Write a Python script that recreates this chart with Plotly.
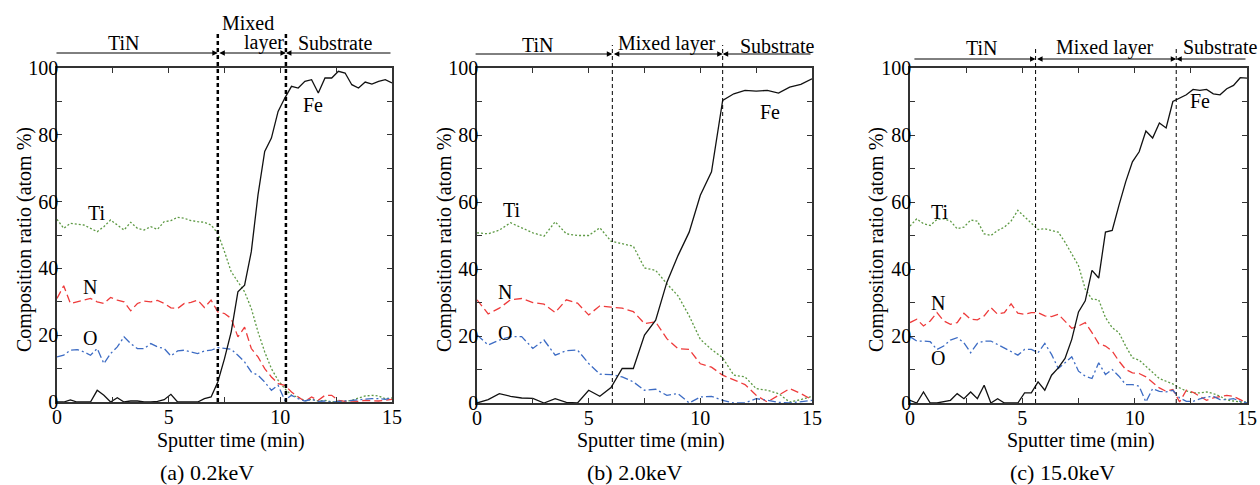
import plotly.graph_objects as go
from plotly.subplots import make_subplots

FONT = "Liberation Serif, Times New Roman, DejaVu Serif, serif"
W, H = 1260, 485

# ---------------- data ----------------
T_A = [round(0.3 * i, 1) for i in range(51)]
FE_A = [0, 0, 0.6, 0, 0, 0, 3.5, 2, 0, 1.3,
        0, 0.3, 0.3, 0, 0, 0.2, 0.7, 2.3, 0, 0,
        0, 0, 1, 1.5, 6, 13, 21, 33, 35, 45,
        62, 75, 79, 87, 91, 94.5, 94, 96, 96.5, 92.5,
        97, 97, 99, 98.5, 95, 94, 95.8, 95.2, 96, 96.5,
        95.5]
TI_A = [54.7, 52, 53.5, 53.3, 53, 52, 51, 52.5, 54.5, 53,
        51.5, 53.8, 52, 51.5, 52.5, 51.7, 54, 54.3, 55.3, 55,
        54.3, 54, 53.8, 53, 50.5, 45, 39, 36, 33, 28,
        21, 15, 10, 6.5, 4, 2, 1.5, 0.3, 0.8, 0.3,
        0.5, 0, 0.3, 0.2, 0.5, 1.2, 1.8, 2, 1.8, 1,
        1.2]
N_A = [31, 34.8, 29.5, 30, 30.5, 31, 30, 29.5, 31.3, 30.5,
       30, 27.3, 29.5, 30.2, 30, 30.4, 29.5, 28.2, 28, 29.5,
       29.8, 30.5, 28.3, 30.5, 27, 26.5, 25, 19.5, 22.4, 16,
       13.5, 10, 7.5, 5.5, 5, 3, 1.5, 0.2, 1.5, 0.5,
       2, 2, 0.5, 0.2, 0.3, 0.2, 0.5, 0.4, 0.3, 0.5,
       0.8]
O_A = [13.5, 14, 15.5, 15.7, 15, 14, 16, 11.5, 14.5, 16.5,
       19.5, 17.5, 16, 16, 17.5, 16.5, 16, 13.8, 15.3, 15.5,
       15, 14.5, 15.3, 15.5, 16.3, 16, 15.8, 14, 12, 9,
       8, 6, 3.5, 5, 0.5, 2, 1, 0.3, 0.8, 0.2,
       0.3, 0, 0.2, 0.3, 0.5, 0.8, 1, 1, 1, 0.8,
       1.3]

T_B = [0.5 * i for i in range(31)]
FE_B = [0, 1, 2.8, 2, 1.5, 1.4, 0, 1.3, 0.2, 0,
        3.8, 2, 4.6, 10.3, 10.3, 20.3, 24.7, 36, 44, 51,
        62, 69, 90.3, 92.3, 93.3, 93.1, 93.3, 92.5, 94.3, 95.1,
        96.8]
TI_B = [50.8, 50.5, 51.6, 53.8, 52.3, 50.8, 49.8, 54.1, 50.5, 50,
        50, 52.3, 48.3, 47.6, 46.8, 40.3, 39.6, 35.6, 32, 26,
        19, 16, 13.5, 8.3, 7.8, 4.3, 3.8, 2.8, 0.3, 1,
        2]
N_B = [30.8, 26.6, 28.3, 30.8, 31.2, 30, 29.5, 27, 30.8, 29.8,
       26.3, 29, 28.6, 28.3, 27.3, 23.7, 24.2, 19.2, 16.2, 16,
       11.7, 10.7, 8.3, 6.8, 5.5, 2.3, 0.3, 2.3, 4.3, 2.8,
       1]
O_B = [20.3, 17.3, 18.8, 19.8, 19.8, 16.3, 18.8, 14.3, 15.6, 15.8,
       11.8, 8.6, 8.5, 7.8, 6.3, 3.8, 4.1, 2.3, 2.8, 0,
       1.8, 2, 0.8, 0, 0, 1.3, 0.8, 0.2, 0, 0.4,
       0.8]

T_C = [round(0.3 * i, 1) for i in range(51)]
FE_C = [0.8, 0, 3.3, 0, 0, 0.3, 0.8, 2.8, 1.3, 3.3,
        1.3, 5.3, 0, 1.3, 0, 0, 0, 3, 3, 6.3,
        3.8, 8.3, 10.5, 13.3, 19, 27.2, 30.5, 39.6, 37.3, 51,
        51.5, 59, 66, 72, 75, 81.2, 79.1, 83.6, 82.1, 90,
        91, 92, 93.6, 93.3, 93.6, 92.3, 92, 93.8, 94.8, 97.1,
        97]
TI_C = [52.8, 55, 53.5, 53, 54.8, 55, 54.3, 52, 52.5, 54.6,
        54.3, 50.5, 50, 51.5, 52.5, 54.3, 57.5, 55.5, 53.8, 51.8,
        52, 51.5, 51, 48, 44.5, 41, 34, 31, 30.8, 25.5,
        22.5, 21, 17, 13.5, 12.8, 11, 9, 7.3, 6.5, 5.7,
        4.5, 3.6, 3, 3, 3.3, 2.8, 2, 0.9, 0.6, 0.3,
        0.3]
N_C = [24, 25, 23, 24.5, 27, 24.5, 23.5, 24, 26.8, 25,
       24.8, 26, 28.5, 26.5, 27, 29.6, 26.8, 26.5, 27, 27,
       26, 25.8, 26.5, 24.5, 22.3, 23, 24, 21, 17.7, 17,
       15.5, 12.5, 10, 9, 8.8, 7.8, 6, 4.5, 3.5, 4,
       0.3, 3.8, 3.2, 2, 0.8, 1.5, 2, 2.3, 2, 1,
       0]
O_C = [19.8, 18.5, 18.5, 18.3, 16, 17, 18.8, 19.5, 18, 15,
       17.8, 18.5, 18.5, 17.5, 16.5, 15.5, 14.3, 16, 16, 15,
       17.8, 14.5, 10.3, 12, 13.8, 9.5, 8, 7.3, 12, 8.5,
       10, 8, 5.5, 5.5, 5, 0.3, 4.3, 3.5, 3.3, 3.8,
       1.5, 0.5, 0.5, 1.2, 1.8, 2, 1, 1, 1.3, 0.5,
       0]

BOUNDS_A = [7.2, 10.25]
BOUNDS_B = [6.06, 11.0]
BOUNDS_C = [5.59, 11.85]
CAPTIONS = ["(a) 0.2keV", "(b) 2.0keV", "(c) 15.0keV"]
X_TICKS = [0, 2.5, 5, 7.5, 10, 12.5, 15]
X_TICKTEXT = ["0", "", "5", "", "10", "", "15"]
Y_TICKS = [0, 10, 20, 30, 40, 50, 60, 70, 80, 90, 100]
Y_TICKTEXT = ["0", "", "20", "", "40", "", "60", "", "80", "", "100"]

# ---------------- layout helpers ----------------
def px_x(p):
    return p / W

def px_y(p):
    return 1 - p / H

# plot boxes in pixels: left, right, top, bottom
BOX = [(57, 392, 68, 402), (477, 812, 68, 403), (910, 1247, 68, 403)]

COL_FE = "#111111"
COL_TI = "#5e9a45"
COL_N = "#ee3b3b"
COL_O = "#3d6cc4"

fig = make_subplots(rows=1, cols=3)

panels = [
    (T_A, FE_A, TI_A, N_A, O_A),
    (T_B, FE_B, TI_B, N_B, O_B),
    (T_C, FE_C, TI_C, N_C, O_C),
]
for i, (t, fe, ti, n, o) in enumerate(panels):
    c = i + 1
    fig.add_trace(go.Scatter(x=t, y=ti, mode="lines", line=dict(color=COL_TI, width=1.3, dash="2px,2px")), row=1, col=c)
    fig.add_trace(go.Scatter(x=t, y=n, mode="lines", line=dict(color=COL_N, width=1.3, dash="8px,4px")), row=1, col=c)
    fig.add_trace(go.Scatter(x=t, y=o, mode="lines", line=dict(color=COL_O, width=1.3, dash="8px,3px,2px,3px")), row=1, col=c)
    fig.add_trace(go.Scatter(x=t, y=fe, mode="lines", line=dict(color=COL_FE, width=1.3)), row=1, col=c)

axis_common = dict(showgrid=False, zeroline=False, showline=True, linecolor="#333333", linewidth=1.5,
                   mirror="ticks", ticks="inside", ticklen=5, tickwidth=1, tickcolor="#333333",
                   tickfont=dict(family=FONT, size=20, color="black"), automargin=False)

for i, (l, r, t, b) in enumerate(BOX):
    sfx = "" if i == 0 else str(i + 1)
    fig.layout["xaxis" + sfx].update(domain=[px_x(l), px_x(r)], range=[0, 15],
                                     tickvals=X_TICKS, ticktext=X_TICKTEXT,
                                     ticklabelstandoff=-4, **axis_common)
    fig.layout["yaxis" + sfx].update(domain=[px_y(b), px_y(t)], range=[0, 100],
                                     tickvals=Y_TICKS, ticktext=Y_TICKTEXT,
                                     ticklabelstandoff=-7, **axis_common)

annotations = []
shapes = []

def txt(x, y, s, size=20, xref="paper", yref="paper", angle=0):
    annotations.append(dict(x=x, y=y, xref=xref, yref=yref, text=s, showarrow=False,
                            font=dict(family=FONT, size=size, color="black"),
                            xanchor="center", yanchor="middle", textangle=angle))

# element labels (data coords)
LABELS = [
    [("Ti", 1.8, 56.6), ("Fe", 11.46, 89), ("N", 1.48, 34.4), ("O", 1.48, 19.2)],
    [("Ti", 1.57, 57.5), ("Fe", 13.1, 87), ("N", 1.25, 33), ("O", 1.25, 21)],
    [("Ti", 1.33, 57), ("Fe", 12.9, 90), ("N", 1.25, 30), ("O", 1.25, 13.5)],
]
for i, labs in enumerate(LABELS):
    sfx = "" if i == 0 else str(i + 1)
    for s, x, y in labs:
        txt(x, y, s, xref="x" + sfx, yref="y" + sfx)

# axis titles & captions (pixel-positioned)
YT_X = [24, 444, 876]
XT_X = [231, 651, 1081]
CAP_X = [207, 634, 1062]
for i in range(3):
    txt(px_x(YT_X[i]), px_y(240), "Composition ratio (atom %)", angle=-90)
    txt(px_x(XT_X[i]), px_y(440), "Sputter time (min)")
    txt(px_x(CAP_X[i]), px_y(472), CAPTIONS[i], size=22)

# header: region labels, arrows, dashed boundaries
BOUNDS = [BOUNDS_A, BOUNDS_B, BOUNDS_C]
ARROW_Y = [53, 54, 59]
LINE_TOP = [33, 45, 46]
LINE_X0 = [-0.09, -0.13, 0.13]
DASH_W = [2.5, 1, 1]
for i in range(3):
    sfx = "" if i == 0 else str(i + 1)
    xr = "x" + sfx
    b1, b2 = BOUNDS[i]
    l, r, t, b = BOX[i]
    for bx in (b1, b2):
        shapes.append(dict(type="line", xref=xr, yref="paper", x0=bx, x1=bx,
                           y0=px_y(b), y1=px_y(LINE_TOP[i]),
                           line=dict(color="black", width=DASH_W[i], dash="4px,3px")))
    ay = px_y(ARROW_Y[i])
    arr = dict(xref=xr, axref=xr, yref="paper", ayref="pixel", ay=0, y=ay, text="",
               showarrow=True, arrowhead=2, arrowsize=1.1, arrowwidth=1, arrowcolor="black",
               standoff=0, startstandoff=0)
    annotations.append(dict(arr, x=b1, ax=LINE_X0[i], arrowside="end"))
    annotations.append(dict(arr, x=b2, ax=b1, arrowside="end+start", startarrowhead=2, startarrowsize=1.1))
    annotations.append(dict(arr, x=b2, ax=15, arrowside="end"))

HEAD_TXT = [
    [("TiN", 124, 43), ("Mixed", 247.5, 23), ("layer", 264, 42), ("Substrate", 335, 43)],
    [("TiN", 537.5, 45), ("Mixed layer", 666.7, 43), ("Substrate", 777.5, 46)],
    [("TiN", 981.7, 48), ("Mixed layer", 1105, 48), ("Substrate", 1220.8, 47)],
]
for hs in HEAD_TXT:
    for s, x, y in hs:
        txt(px_x(x), px_y(y), s)

fig.update_layout(width=W, height=H, autosize=False,
                  margin=dict(l=0, r=0, t=0, b=0, pad=0, autoexpand=False),
                  paper_bgcolor="white", plot_bgcolor="white", showlegend=False,
                  font=dict(family=FONT, size=20, color="black"),
                  annotations=annotations, shapes=shapes)

fig.write_html("out.html", config={"displayModeBar": False},
               post_script="document.body.style.margin='0px';document.body.style.overflow='hidden';")
